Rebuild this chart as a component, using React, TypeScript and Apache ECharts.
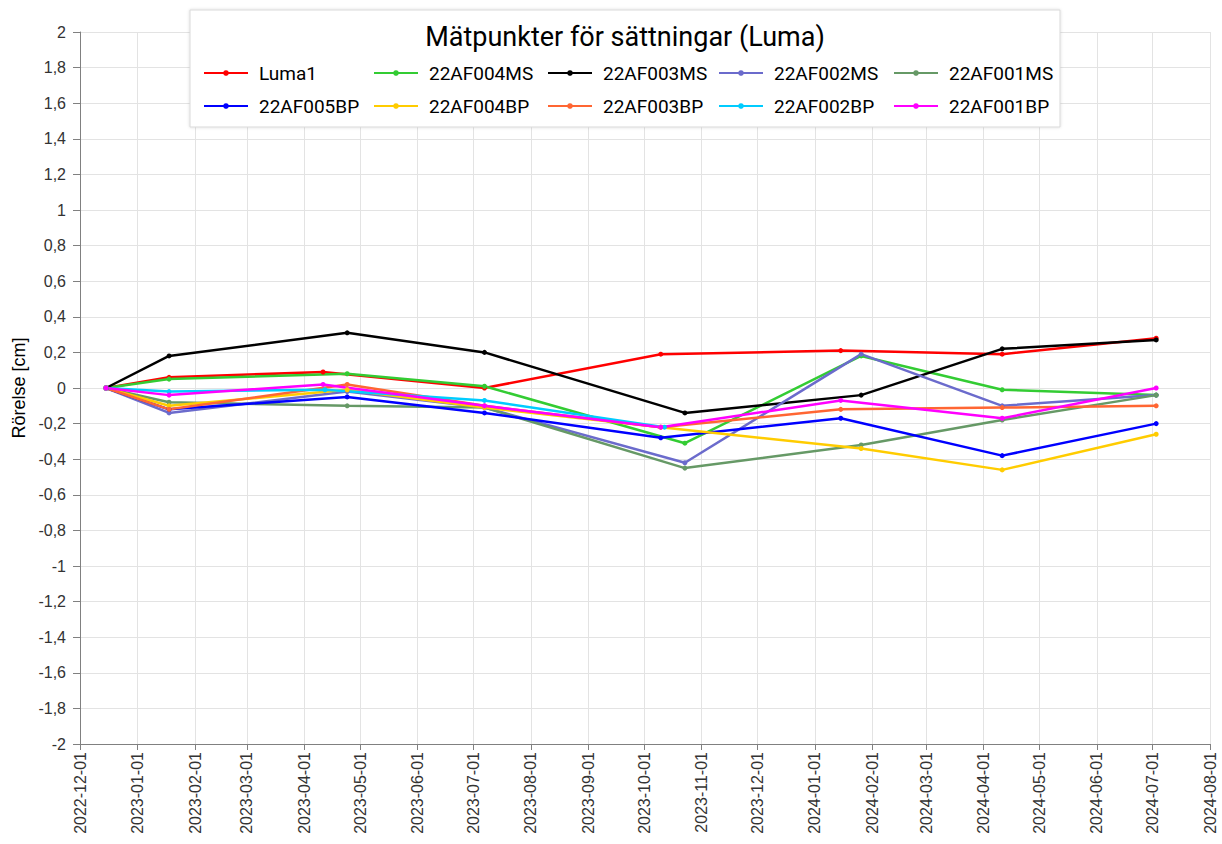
import React, { useEffect, useRef } from "react";
import * as echarts from "echarts";

const seriesNames = [
  "Luma1", "22AF004MS", "22AF003MS", "22AF002MS", "22AF001MS",
  "22AF005BP", "22AF004BP", "22AF003BP", "22AF002BP", "22AF001BP",
];
const seriesColors = [
  "#ff0000", "#33cc33", "#000000", "#6b6bcc", "#669966",
  "#0000ff", "#ffcc00", "#ff6633", "#00ccff", "#ff00ff",
];

const datesLuma1 = ["2022-12-15", "2023-01-18", "2023-04-11", "2023-07-07", "2023-10-10", "2024-01-15", "2024-04-11", "2024-07-03"];
const datesMS = ["2022-12-15", "2023-01-18", "2023-04-24", "2023-07-07", "2023-10-23", "2024-01-26", "2024-04-11", "2024-07-03"];
const datesBP005 = ["2022-12-15", "2023-01-18", "2023-04-24", "2023-07-07", "2023-10-10", "2024-01-15", "2024-04-11", "2024-07-03"];
const datesBP004 = ["2022-12-15", "2023-01-18", "2023-04-24", "2023-07-07", "2023-10-10", "2024-01-26", "2024-04-11", "2024-07-03"];
const datesBP003 = ["2022-12-15", "2023-01-18", "2023-04-24", "2023-07-07", "2023-10-10", "2024-01-15", "2024-04-11", "2024-07-03"];
const datesBP002 = ["2022-12-15", "2023-01-18", "2023-04-12", "2023-07-07", "2023-10-12"];
const datesBP001 = ["2022-12-15", "2023-01-18", "2023-04-11", "2023-07-07", "2023-10-10", "2024-01-15", "2024-04-11", "2024-07-03"];

const valuesLuma1 = [0, 0.06, 0.09, 0.0, 0.19, 0.21, 0.19, 0.28];
const values004MS = [0, 0.05, 0.08, 0.01, -0.31, 0.18, -0.01, -0.04];
const values003MS = [0, 0.18, 0.31, 0.2, -0.14, -0.04, 0.22, 0.27];
const values002MS = [0, -0.14, -0.02, -0.11, -0.42, 0.19, -0.1, -0.04];
const values001MS = [0, -0.08, -0.1, -0.11, -0.45, -0.32, -0.18, -0.04];
const values005BP = [0, -0.12, -0.05, -0.14, -0.28, -0.17, -0.38, -0.2];
const values004BP = [0, -0.1, -0.01, -0.11, -0.22, -0.34, -0.46, -0.26];
const values003BP = [0, -0.12, 0.02, -0.1, -0.22, -0.12, -0.11, -0.1];
const values002BP = [0, -0.02, -0.01, -0.07, -0.22];
const values001BP = [0, -0.04, 0.02, -0.1, -0.22, -0.07, -0.17, 0.0];

const seriesDates = [datesLuma1, datesMS, datesMS, datesMS, datesMS, datesBP005, datesBP004, datesBP003, datesBP002, datesBP001];
const seriesValues = [
  valuesLuma1, values004MS, values003MS, values002MS, values001MS,
  values005BP, values004BP, values003BP, values002BP, values001BP,
];

const xMin = "2022-12-01";
const xMax = "2024-08-01";
const yMin = -2;
const yMax = 2;
const yInterval = 0.2;

const chartTitle = "Mätpunkter för sättningar (Luma)";
const yAxisName = "Rörelse [cm]";

export default function App() {
  const ref = useRef<HTMLDivElement>(null);
  useEffect(() => {
    if (!ref.current) return;
    const chart = echarts.init(ref.current, null, { renderer: "svg" });
    const series = seriesNames.map((name, i) => ({
      name,
      type: "line",
      data: seriesDates[i].map((d, j) => [d, seriesValues[i][j]]),
      symbol: "circle",
      symbolSize: 5,
      showSymbol: true,
      showAllSymbol: true,
      color: seriesColors[i],
      lineStyle: { width: 2.5, color: seriesColors[i] },
      itemStyle: { color: seriesColors[i] },
    }));
    const colStarts = [203, 373, 547, 718, 893];
    const rowCenters = [73, 106];
    const legends = seriesNames.map((name, i) => ({
      data: [name],
      left: colStarts[i % 5],
      top: rowCenters[Math.floor(i / 5)] - 9.5,
      padding: 0,
      itemWidth: 44,
      itemHeight: 7,
      z: 20,
      textStyle: {
        fontFamily: "Roboto",
        fontSize: 19,
        color: "#000",
        padding: [0, 0, 0, 6],
      },
    }));
    chart.setOption({
      animation: false,
      backgroundColor: "#ffffff",
      title: {
        text: chartTitle,
        left: 625,
        textAlign: "center",
        top: 23,
        padding: 0,
        z: 20,
        textStyle: { fontFamily: "Roboto", fontSize: 27, fontWeight: "normal", color: "#000" },
      },
      legend: legends,
      graphic: [
        {
          type: "rect",
          z: 15,
          shape: { x: 190, y: 10, width: 870, height: 117 },
          style: {
            fill: "#ffffff",
            stroke: "#d9d9d9",
            lineWidth: 1,
            shadowBlur: 3,
            shadowColor: "rgba(0,0,0,0.15)",
          },
        },
      ],
      grid: { left: 80, right: 12, top: 32, bottom: 100, containLabel: false },
      xAxis: {
        type: "time",
        min: xMin,
        max: xMax,
        splitNumber: 20,
        axisLine: { show: true, onZero: false, lineStyle: { color: "#808080", width: 1 } },
        axisTick: { show: true, length: 6, lineStyle: { color: "#808080" } },
        axisLabel: {
          rotate: 90,
          margin: 8,
          formatter: "{yyyy}-{MM}-{dd}",
          color: "#333",
          fontFamily: "Liberation Sans",
          fontSize: 16,
          showMinLabel: true,
          showMaxLabel: true,
          hideOverlap: false,
        },
        splitLine: { show: true, lineStyle: { color: "#e3e3e3", width: 1 } },
      },
      yAxis: {
        type: "value",
        min: yMin,
        max: yMax,
        interval: yInterval,
        name: yAxisName,
        nameLocation: "middle",
        nameGap: 52,
        nameTextStyle: { fontFamily: "Liberation Sans", fontSize: 18, color: "#000" },
        axisLine: { show: true, lineStyle: { color: "#808080", width: 1 } },
        axisTick: { show: true, length: 7, lineStyle: { color: "#808080" } },
        axisLabel: {
          margin: 14,
          color: "#333",
          fontFamily: "Liberation Sans",
          fontSize: 16,
          formatter: (v: number) => String(Math.round(v * 10) / 10).replace(".", ","),
        },
        splitLine: { show: true, lineStyle: { color: "#e3e3e3", width: 1 } },
      },
      series,
    });
    return () => chart.dispose();
  }, []);
  return (
    <div
      ref={ref}
      style={{ position: "absolute", left: 0, top: 0, width: 1222, height: 844 }}
    />
  );
}
